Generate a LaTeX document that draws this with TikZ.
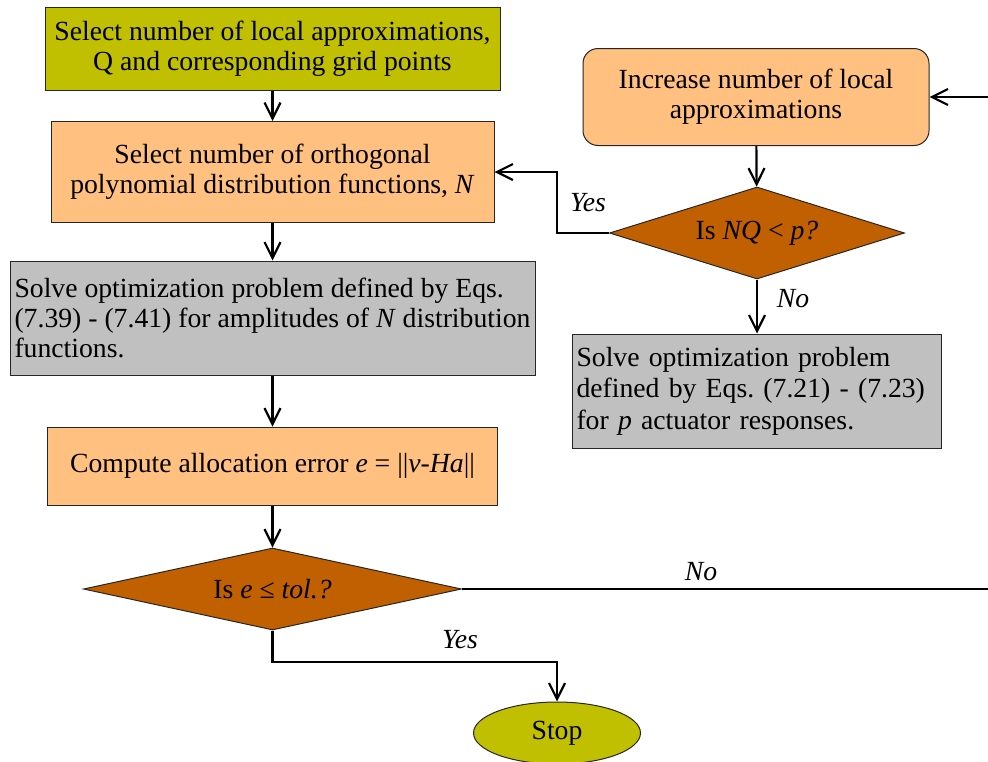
\documentclass[tikz,border=0pt]{standalone}
\usepackage{fontspec}
\setmainfont{Liberation Serif}
\usetikzlibrary{shapes.geometric,arrows.meta}

\definecolor{startfill}{RGB}{192,192,0}
\definecolor{stepfill}{RGB}{255,192,128}
\definecolor{solvefill}{RGB}{192,192,192}
\definecolor{testfill}{RGB}{192,96,0}

\frenchspacing
\begin{document}
\begin{tikzpicture}[x=1pt,y=-1pt,
  font=\fontsize{27.7}{30}\selectfont,
  box/.style={draw=black!85, line width=1pt, rectangle, inner sep=3pt, align=center},
  decision/.style={draw=black!85, line width=1pt, diamond, fill=testfill, inner sep=0pt},
  terminal/.style={draw=black!85, line width=1pt, ellipse, fill=startfill, inner sep=0pt},
  flow/.style={line width=2.2pt, -{Straight Barb[length=16pt,width=16pt,line width=2.2pt]}},
  lbl/.style={font=\fontsize{27.7}{30}\selectfont\itshape}
]
\useasboundingbox (0,0) rectangle (988,761);

% left column
\node[box, fill=startfill, minimum width=455pt, minimum height=83pt] (sel) at (272.5,48.5)
  {Select number of local approximations,\\Q and corresponding grid points};
\node[box, fill=stepfill, minimum width=443pt, minimum height=101pt] (poly) at (272.5,172)
  {Select number of orthogonal\\polynomial distribution functions, \textit{N}};
\node[box, fill=solvefill, minimum width=525pt, minimum height=114pt, align=left] (amp) at (272.5,318)
  {Solve optimization problem defined by Eqs.\\(7.39) - (7.41) for amplitudes of \textit{N} distribution\\functions.};
\node[box, fill=stepfill, minimum width=450pt, minimum height=78pt] (err) at (272.5,466)
  {Compute allocation error \textit{e} = ||\textit{v}-\textit{Ha}||};
\node[decision, minimum width=378pt, minimum height=82pt, shape aspect=4.6] (tol) at (272.5,589)
  {Is \textit{e} ≤ \textit{tol.?}};
\node[terminal, minimum width=167pt, minimum height=62pt] (stop) at (557,733) {Stop};

% right column
\node[box, rounded corners=15pt, fill=stepfill, minimum width=346pt, minimum height=97pt] (inc) at (756,97)
  {Increase number of local\\approximations};
\node[decision, minimum width=295pt, minimum height=92pt, shape aspect=3.2] (nq) at (757,233)
  {Is \textit{NQ} < \textit{p?}};
\node[box, fill=solvefill, minimum width=369pt, minimum height=114pt, text width=361pt,
      inner xsep=4pt, align=left, font=\fontsize{27.7}{31.5}\selectfont] (act) at (757,391)
  {Solve optimization problem\\defined by Eqs. (7.21) - (7.23)\\for \textit{p} actuator responses.};

% bends of the connectors
\coordinate (yesbend) at (557,662);
\coordinate (loopbend) at (557,172);
\coordinate (rightedge) at (989,97);

% connectors
\draw[flow] (sel) -- (poly);
\draw[flow] (poly) -- (amp);
\draw[flow] (amp) -- (err);
\draw[flow] (err) -- (tol);
\draw[flow] (tol.south) |- (yesbend) -- (stop.north);
\draw[flow] (tol.east) -- (tol.east -| rightedge) -- (rightedge) -- (inc.east);
\draw[flow] (inc) -- (nq);
\draw[flow] (nq) -- (act);
\draw[flow] (nq.west) -| (loopbend) -- (poly.east);

% branch labels
\node[lbl] (tolyes) at (460,640) {Yes};
\node[lbl] (tolno) at (701,572) {No};
\node[lbl] (nqyes) at (588,203) {Yes};
\node[lbl] (nqno) at (793,299) {No};
\end{tikzpicture}
\end{document}
